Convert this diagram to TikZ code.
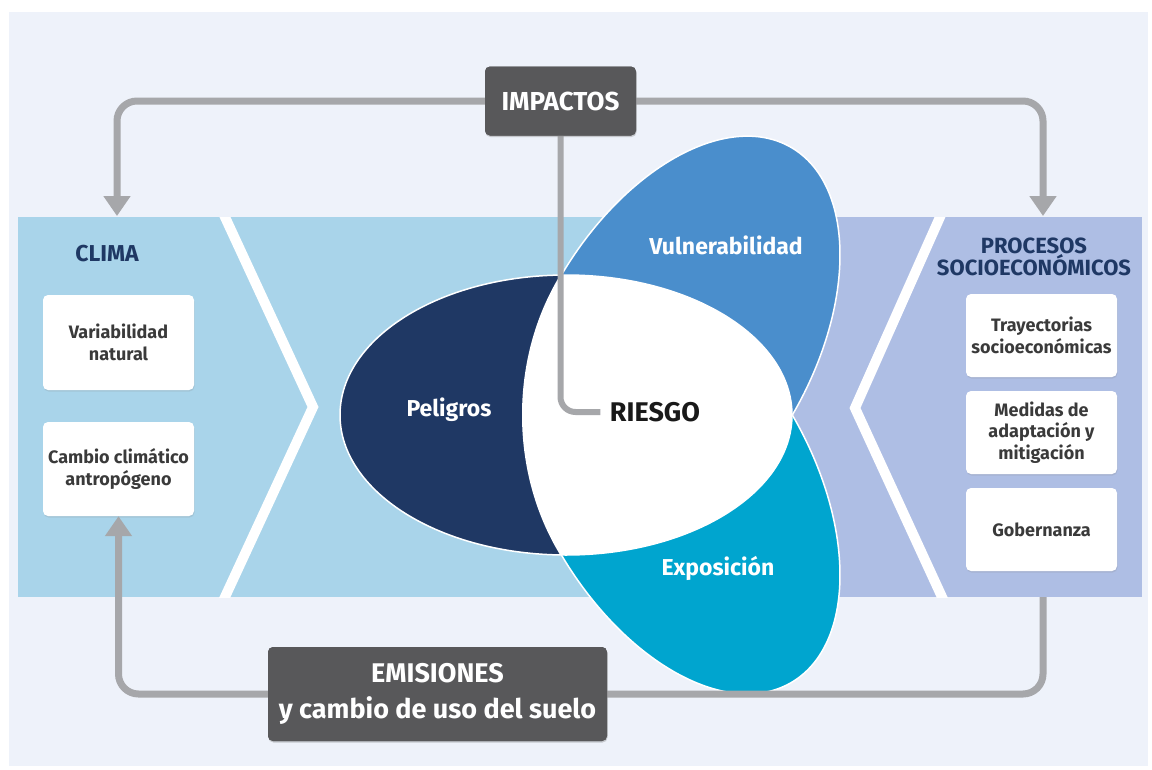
\documentclass[tikz,border=0pt]{standalone}
\usepackage{fontspec}
\setmainfont{Fira Sans}
\usetikzlibrary{arrows.meta,shadows}
\definecolor{bgpanel}{HTML}{EEF2FA}
\definecolor{bandblue}{HTML}{A9D4EA}
\definecolor{lav}{HTML}{AEBEE4}
\definecolor{navy}{HTML}{1F3864}
\definecolor{vulnc}{HTML}{4A8ECC}
\definecolor{expoc}{HTML}{00A5CF}
\definecolor{conncol}{HTML}{A6A7AA}
\definecolor{darkbox}{HTML}{58585A}
\definecolor{boxtext}{HTML}{3A3A3A}
\begin{document}
\begin{tikzpicture}[x=1pt,y=-1pt,
  connector/.style={draw=conncol, line width=7pt, rounded corners=20pt},
  tipped/.style={-{Triangle[width=26pt,length=20pt]}},
  wbox/.style={fill=white, rounded corners=5pt, align=center, text=boxtext,
    font=\bfseries\fontsize{18}{21.5}\selectfont, minimum width=151pt, inner sep=2pt,
    drop shadow={shadow xshift=0.5pt, shadow yshift=-1.5pt, opacity=0.18}},
  dbox/.style={fill=darkbox, rounded corners=5pt, align=center, text=white,
    drop shadow={shadow xshift=0.5pt, shadow yshift=-1.5pt, opacity=0.2}},
  petal/.style={draw=white, line width=1.5pt},
  plabel/.style={text=white, font=\bfseries\fontsize{23}{27}\selectfont},
  title/.style={text=navy, align=center},
  chev/.style={draw=white, line width=10pt, miter limit=10},
]
\useasboundingbox (0,0) rectangle (1152,769);
\fill[white] (0,0) rectangle (1152,769);
\fill[bgpanel] (9,12) rectangle (1148,766);
% band
\fill[bandblue] (18,217) rectangle (792,597);
\fill[lav] (792,217) rectangle (1142,597);
\begin{scope}
  \clip (18,217) rectangle (1142,597);
  \draw[chev] (215.7,197) -- (313,407) -- (215.7,617);
  \draw[chev] (948.9,197) -- (855,408) -- (951.2,617);
\end{scope}
% petals: Vulnerabilidad (upper half) and Exposicion (lower half)
\begin{scope}
  \clip (0,0) rectangle (1152,415);
  \path[petal, fill=vulnc, rotate around={60:(676,346.5)}] (676,346.5) ellipse [x radius=230pt, y radius=135pt];
\end{scope}
\begin{scope}
  \clip (0,415) rectangle (1152,769);
  \path[petal, fill=expoc, rotate around={-60:(676,483.5)}] (676,483.5) ellipse [x radius=230pt, y radius=135pt];
\end{scope}
% Peligros on top
\path[petal, fill=navy] (566,415) ellipse [x radius=226pt, y radius=140pt];
% central white region (RIESGO)
\begin{scope}
  \clip (566,415) ellipse [x radius=226pt, y radius=140pt];
  \fill[white] (722,415) ellipse [x radius=200pt, y radius=238pt];
\end{scope}
% petal labels
\node[plabel] (pel) at (449,410) {Peligros};
\node[plabel] (vul) at (726,245) {Vulnerabilidad};
\node[plabel] (expo) at (718,568) {Exposición};
\node[text=black!90, font=\bfseries\fontsize{27}{30}\selectfont] (riesgo) at (655,412) {RIESGO};
% titles
\node[title, font=\bfseries\fontsize{23}{26}\selectfont] (clima) at (107,254) {CLIMA};
\node[title, font=\bfseries\fontsize{22}{22}\selectfont] (proc) at (1034,257) {PROCESOS\\SOCIOECONÓMICOS};
% white boxes
\node[wbox, minimum height=95pt] (var) at (118.5,342.5) {Variabilidad\\natural};
\node[wbox, minimum height=94pt] (cambio) at (118.5,469) {Cambio climático\\antropógeno};
\node[wbox, minimum height=83pt] (tray) at (1041.5,335.5) {Trayectorias\\socioeconómicas};
\node[wbox, minimum height=83pt] (medidas) at (1041.5,432.5) {Medidas de\\adaptación y\\mitigación};
\node[wbox, minimum height=83pt] (gob) at (1041.5,529.5) {Gobernanza};
% connector coordinates
\coordinate (climatop) at (117,216);
\coordinate (proctop) at (1043,216);
\coordinate (procbot) at (1043,597);
% dark boxes (anchors for connectors)
\node[dbox, minimum width=151pt, minimum height=69pt, font=\bfseries\fontsize{26}{28}\selectfont] (imp) at (560.5,101) {IMPACTOS};
\node[dbox, minimum width=339pt, minimum height=94pt, font=\bfseries\fontsize{27}{36}\selectfont] (emi) at (437.5,694) {EMISIONES\\y cambio de uso del suelo};
% connectors
\draw[connector, tipped] (imp.west) -| (climatop);
\draw[connector, tipped] (imp.east) -| (proctop);
\draw[connector] (procbot) |- (emi.east);
\draw[connector, tipped] (emi.west) -| (cambio.south);
\draw[connector, line width=6pt, rounded corners=15pt] (imp.south) |- ([xshift=-6pt]riesgo.west);
% dark boxes again on top of connector ends
\node[dbox, minimum width=151pt, minimum height=69pt, font=\bfseries\fontsize{26}{28}\selectfont] (imptop) at (560.5,101) {IMPACTOS};
\node[dbox, minimum width=339pt, minimum height=94pt, font=\bfseries\fontsize{27}{36}\selectfont] (emitop) at (437.5,694) {EMISIONES\\y cambio de uso del suelo};
\end{tikzpicture}
\end{document}
